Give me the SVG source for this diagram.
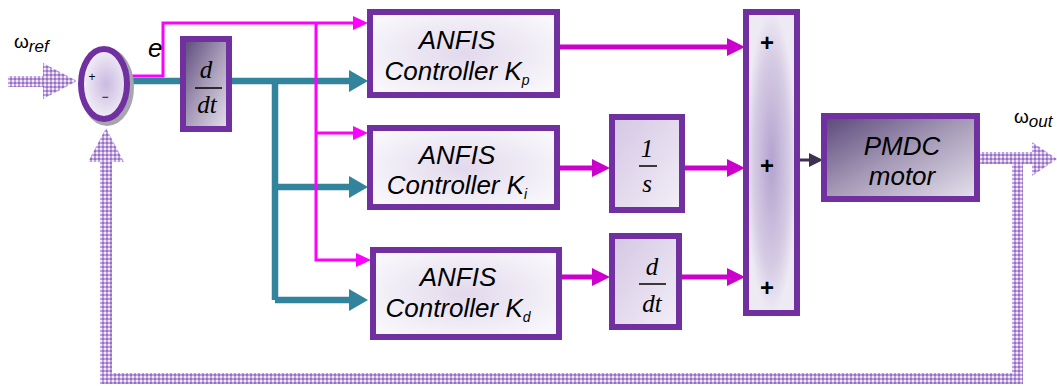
<svg xmlns="http://www.w3.org/2000/svg" width="1057" height="386" viewBox="0 0 1057 386">
  <style>
    .blk { stroke: #7030A0; stroke-width: 6; }
    .lbl { font-family: "Liberation Sans", Arial, sans-serif; font-style: italic; font-size: 26px; fill: #000; }
    .sub { font-size: 14px; }
    .math { font-family: "Liberation Serif", "Times New Roman", serif; font-style: italic; font-size: 25px; fill: #000; }
    .frac { stroke: #000; stroke-width: 1.5; }
    .plus { font-family: "Liberation Sans", Arial, sans-serif; font-weight: bold; font-size: 24px; fill: #000; }
    .teal { stroke: #31849B; stroke-width: 6.5; fill: none; }
    .mag { stroke: #FF00FF; stroke-width: 3; fill: none; }
    .magk { stroke: #CC00CC; stroke-width: 5; fill: none; }
  </style>
  <defs>
    <pattern id="hatch" width="4" height="4" patternUnits="userSpaceOnUse">
      <rect width="4" height="4" fill="#bda3de"/>
      <rect x="0" y="0" width="2" height="2" fill="#f1ebf8"/>
      <rect x="2" y="2" width="2" height="2" fill="#9a6fca"/>
    </pattern>
    <radialGradient id="gAnfis" cx="0.5" cy="0.5" r="0.6">
      <stop offset="0" stop-color="#e2d9ec"/>
      <stop offset="1" stop-color="#f8f7fb"/>
    </radialGradient>
    <linearGradient id="gDark" x1="0" y1="0" x2="1" y2="1">
      <stop offset="0" stop-color="#5a477a"/>
      <stop offset="0.5" stop-color="#a79cb8"/>
      <stop offset="1" stop-color="#e6e2ee"/>
    </linearGradient>
    <linearGradient id="gLight" x1="0" y1="0" x2="1" y2="1">
      <stop offset="0" stop-color="#d4c6e4"/>
      <stop offset="1" stop-color="#f3eff7"/>
    </linearGradient>
    <radialGradient id="gSum" cx="0.5" cy="0.5" r="0.5">
      <stop offset="0" stop-color="#b3a2cf"/>
      <stop offset="0.7" stop-color="#d6cce4"/>
      <stop offset="1" stop-color="#eeeaf4"/>
    </radialGradient>
    <radialGradient id="gJunc" cx="0.55" cy="0.5" r="0.55">
      <stop offset="0" stop-color="#c9badf"/>
      <stop offset="1" stop-color="#f6f3fa"/>
    </radialGradient>
  </defs>

  <!-- hatched reference input and speed feedback loop -->
  <g id="signals">
    <path d="M8 76 H43 V63 L77 81 L43 99 V87 H8 Z" fill="url(#hatch)"/>
    <path d="M980 152 H1032 V142 L1057 159 L1032 176 V164 H1023 V384 H100 V162 H88 L106 128 L124 162 H112 V373 H1012 V164 H980 Z" fill="url(#hatch)"/>
  </g>

  <!-- connectors -->
  <g id="connectors">
    <!-- error signal and derivative of error (teal) -->
    <path class="teal" d="M128 81 H182"/>
    <path class="teal" d="M230 81 H352 M275 81 V300 M275 187 H352 M275 300 H352"/>
    <polygon points="349,70 368,81 349,92" fill="#31849B"/>
    <polygon points="349,176 368,187 349,198" fill="#31849B"/>
    <polygon points="349,289 368,300 349,311" fill="#31849B"/>
    <!-- error signal to controller inputs (magenta) -->
    <path class="mag" d="M130 76 H163 V23 H355 M316 23 V260 H358 M316 133 H355"/>
    <polygon points="353,16 368,23 353,30" fill="#FF00FF"/>
    <polygon points="353,126 368,133 353,140" fill="#FF00FF"/>
    <polygon points="356,253 371,260 356,267" fill="#FF00FF"/>
    <!-- controller gains to summing bar -->
    <path class="magk" d="M558 47 H730 M558 168 H595 M683 168 H730 M560 277 H595 M680 277 H730"/>
    <polygon points="727,38 745,47 727,56" fill="#CC00CC"/>
    <polygon points="592,159 610,168 592,177" fill="#CC00CC"/>
    <polygon points="727,159 745,168 727,177" fill="#CC00CC"/>
    <polygon points="592,268 610,277 592,286" fill="#CC00CC"/>
    <polygon points="727,268 745,277 727,286" fill="#CC00CC"/>
    <!-- sum to motor -->
    <path d="M800 160 H812" stroke="#3d3050" stroke-width="3"/>
    <polygon points="809,153 823,160 809,167" fill="#3d3050"/>
  </g>

  <!-- labels on signals -->
  <g id="signal-labels">
    <text x="14" y="48" font-family="Liberation Sans, Arial, sans-serif" font-size="19" fill="#000">ω<tspan font-style="italic" font-size="17" dy="4">ref</tspan></text>
    <text x="148" y="57" font-family="Liberation Sans, Arial, sans-serif" font-style="italic" font-size="26" fill="#000">e</text>
    <text x="1014" y="123" font-family="Liberation Sans, Arial, sans-serif" font-size="19" fill="#000">ω<tspan font-style="italic" font-size="17" dy="4">out</tspan></text>
  </g>

  <!-- summing junction -->
  <g id="junction">
    <ellipse cx="107" cy="87" rx="24" ry="36" fill="none" stroke="#a8a4b0" stroke-width="6"/>
    <ellipse cx="104" cy="84" rx="23" ry="35" fill="url(#gJunc)" class="blk"/>
    <text x="92" y="81" font-family="Liberation Sans, Arial, sans-serif" font-size="12" text-anchor="middle">+</text>
    <text x="105" y="101" font-family="Liberation Sans, Arial, sans-serif" font-size="12" text-anchor="middle">−</text>
  </g>

  <!-- derivative of error -->
  <g id="deriv-error">
    <rect x="186" y="42" width="46" height="90" fill="#bfc6a8"/>
    <rect x="183" y="39" width="46" height="90" fill="url(#gDark)" class="blk"/>
    <text class="math" x="206" y="78" text-anchor="middle">d</text>
    <line class="frac" x1="195" y1="88" x2="222" y2="88"/>
    <text class="math" x="207" y="113" text-anchor="middle">dt</text>
  </g>

  <!-- ANFIS controllers -->
  <g id="anfis-kp">
    <rect x="373" y="15" width="187" height="83" fill="#a9a5b5"/>
    <rect x="370" y="12" width="187" height="83" fill="url(#gAnfis)" class="blk"/>
    <text class="lbl" x="457" y="49" text-anchor="middle">ANFIS</text>
    <text class="lbl" x="457" y="80" text-anchor="middle">Controller K<tspan class="sub" dy="5">p</tspan></text>
  </g>
  <g id="anfis-ki">
    <rect x="373" y="131" width="187" height="79" fill="#a9a5b5"/>
    <rect x="370" y="128" width="187" height="79" fill="url(#gAnfis)" class="blk"/>
    <text class="lbl" x="457" y="164" text-anchor="middle">ANFIS</text>
    <text class="lbl" x="457" y="194" text-anchor="middle">Controller K<tspan class="sub" dy="5">i</tspan></text>
  </g>
  <g id="anfis-kd">
    <rect x="376" y="253" width="186" height="87" fill="#a9a5b5"/>
    <rect x="373" y="250" width="186" height="87" fill="url(#gAnfis)" class="blk"/>
    <text class="lbl" x="458" y="286" text-anchor="middle">ANFIS</text>
    <text class="lbl" x="458" y="317" text-anchor="middle">Controller K<tspan class="sub" dy="5">d</tspan></text>
  </g>

  <!-- integrator -->
  <g id="integrator">
    <rect x="615" y="120" width="70" height="93" fill="#9fb4bb"/>
    <rect x="612" y="117" width="70" height="93" fill="url(#gLight)" class="blk"/>
    <text class="math" x="647" y="157" text-anchor="middle">1</text>
    <line class="frac" x1="639" y1="166" x2="657" y2="166"/>
    <text class="math" x="647" y="192" text-anchor="middle">s</text>
  </g>

  <!-- differentiator -->
  <g id="differentiator">
    <rect x="615" y="239" width="67" height="91" fill="#d4a888"/>
    <rect x="612" y="236" width="67" height="91" fill="url(#gLight)" class="blk"/>
    <text class="math" x="652" y="275" text-anchor="middle">d</text>
    <line class="frac" x1="639" y1="284" x2="666" y2="284"/>
    <text class="math" x="652" y="312" text-anchor="middle">dt</text>
  </g>

  <!-- summing bar -->
  <g id="sum-bar">
    <rect x="746" y="12" width="51" height="301" fill="url(#gSum)" class="blk"/>
    <text class="plus" x="767" y="51" text-anchor="middle">+</text>
    <text class="plus" x="767" y="174" text-anchor="middle">+</text>
    <text class="plus" x="767" y="296" text-anchor="middle">+</text>
  </g>

  <!-- motor -->
  <g id="pmdc-motor">
    <rect x="824" y="116" width="153" height="83" fill="url(#gDark)" class="blk"/>
    <text class="lbl" x="902" y="155" text-anchor="middle">PMDC</text>
    <text class="lbl" x="902" y="185" text-anchor="middle">motor</text>
  </g>
</svg>
